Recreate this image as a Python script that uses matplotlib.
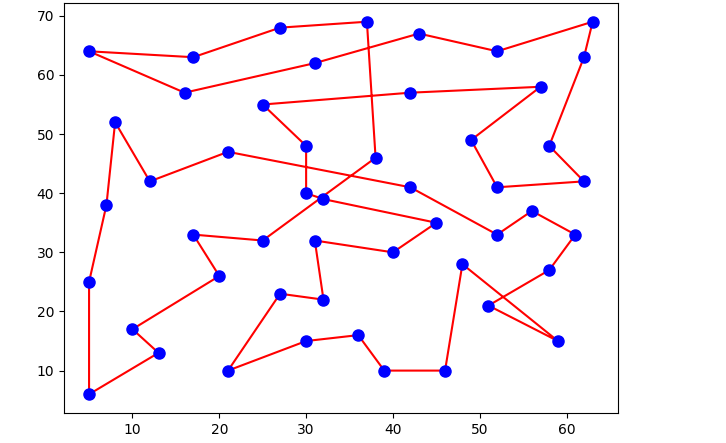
import numpy as np
import matplotlib.pyplot as plt

# tour order of the cities (closed loop)
x = [5, 17, 27, 37, 38, 25, 17, 20, 10, 13, 5, 5, 7, 8, 12, 21, 42, 52, 56, 61,
     58, 51, 59, 48, 46, 39, 36, 30, 21, 27, 32, 31, 40, 45, 32, 30, 30, 25, 42, 57,
     49, 52, 62, 58, 62, 63, 52, 43, 31, 16]
y = [64, 63, 68, 69, 46, 32, 33, 26, 17, 13, 6, 25, 38, 52, 42, 47, 41, 33, 37, 33,
     27, 21, 15, 28, 10, 10, 16, 15, 10, 23, 22, 32, 30, 35, 39, 40, 48, 55, 57, 58,
     49, 41, 42, 48, 63, 69, 64, 67, 62, 57]

fig = plt.figure(figsize=(7.26, 4.43), dpi=100)
ax = fig.add_axes([0.088, 0.068, 0.763, 0.925])

ax.plot(x + [x[0]], y + [y[0]], color="red", zorder=1)
ax.plot(x, y, "o", color="blue", markersize=8, zorder=2)

plt.savefig("out.png", dpi=100)
